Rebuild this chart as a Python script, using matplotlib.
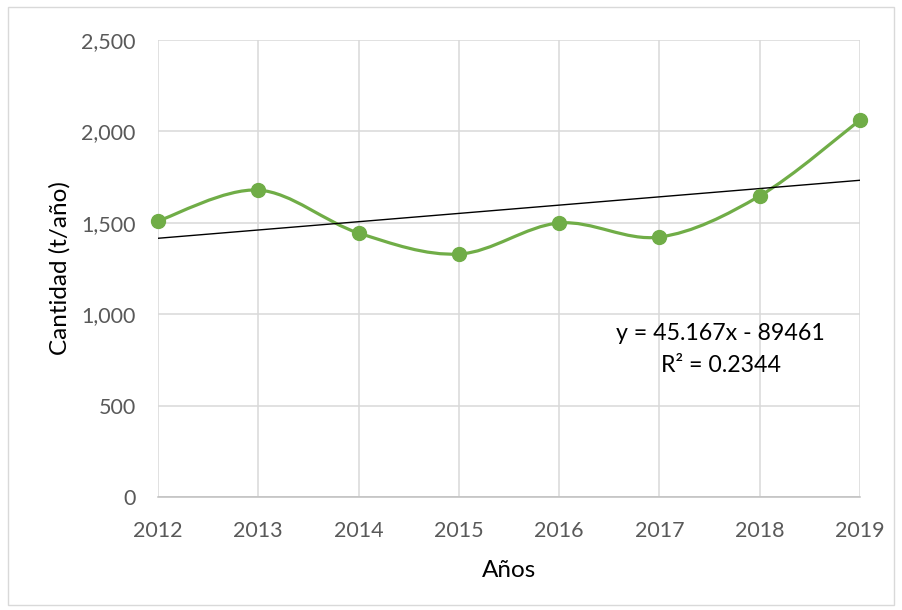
import numpy as np
import matplotlib
matplotlib.use("Agg")
import matplotlib.pyplot as plt
from matplotlib.path import Path
from matplotlib.patches import PathPatch, Rectangle

# valores
years = [2012, 2013, 2014, 2015, 2016, 2017, 2018, 2019]
cantidad = [1510, 1679, 1444, 1329, 1499, 1422, 1647, 2062]
y_ticks = [0, 500, 1000, 1500, 2000, 2500]
eq_text = "y = 45.167x - 89461"
r2_text = "R² = 0.2344"

plt.rcParams['font.family'] = ['Lato', 'DejaVu Sans']

GREEN = '#70ad47'
GRID = '#d9d9d9'
TICK = '#595959'


# curva suavizada tipo Excel (Bezier con puntos de control Catmull-Rom)
def smooth_path(x, y):
    pts = np.column_stack([x, y]).astype(float)
    n = len(pts)
    verts = [pts[0]]
    codes = [Path.MOVETO]
    for i in range(n - 1):
        p0 = pts[i - 1] if i > 0 else pts[i]
        p1 = pts[i]
        p2 = pts[i + 1]
        p3 = pts[i + 2] if i + 2 < n else pts[i + 1]
        c1 = p1 + (p2 - p0) / 6.0
        c2 = p2 - (p3 - p1) / 6.0
        verts += [c1, c2, p2]
        codes += [Path.CURVE4] * 3
    return Path(verts, codes)


fig = plt.figure(figsize=(9.02, 6.1), dpi=100)
ax = fig.add_axes([158 / 902, 1 - 497 / 610, (860 - 158) / 902, (497 - 40) / 610])

# borde del área del gráfico
fig.patches.append(Rectangle((8 / 902, 5 / 610), 886 / 902, 598 / 610, transform=fig.transFigure,
                             fill=False, edgecolor=GRID, linewidth=1.0))

ax.set_xlim(years[0], years[-1])
ax.set_ylim(y_ticks[0], y_ticks[-1])
ax.set_xticks(years)
ax.set_yticks(y_ticks)
ax.set_yticklabels([f'{v:,}' for v in y_ticks])
ax.grid(True, color=GRID, linewidth=1.1)
ax.set_axisbelow(True)
for s in ['top', 'right', 'left']:
    ax.spines[s].set_visible(False)
ax.spines['bottom'].set_color('#bfbfbf')
ax.spines['bottom'].set_linewidth(1.1)
ax.tick_params(axis='both', length=0, labelsize=15.5, colors=TICK)
ax.tick_params(axis='y', pad=16)
ax.tick_params(axis='x', pad=17)

# línea suavizada
ax.add_patch(PathPatch(smooth_path(years, cantidad), fill=False, edgecolor=GREEN,
                       linewidth=2.3, zorder=3, clip_on=False))
ax.plot(years, cantidad, linestyle='none', marker='o', markersize=10,
        color=GREEN, zorder=4, clip_on=False)

# línea de tendencia lineal
coef = np.polyfit(years, cantidad, 1)
xt = np.array([years[0], years[-1]])
ax.plot(xt, np.polyval(coef, xt), color='black', linewidth=1.0, zorder=3)

ax.text(2017.61, 897, eq_text, ha='center', va='center', fontsize=16.7, color='black')
ax.text(2017.61, 722, r2_text, ha='center', va='center', fontsize=16.7, color='black')

ax.set_xlabel('Años', fontsize=17.5, color='black', labelpad=14)
ax.set_ylabel('Cantidad (t/año)', fontsize=17.5, color='black', labelpad=8)

fig.savefig('out.png', dpi=100)
